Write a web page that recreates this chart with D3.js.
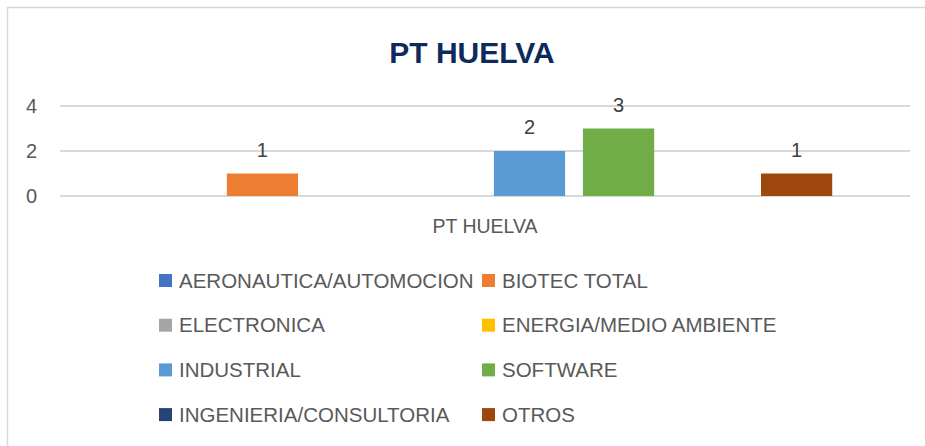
<!DOCTYPE html>
<html>
<head>
<meta charset="utf-8">
<script src="https://cdn.jsdelivr.net/npm/d3@7"></script>
<style>
  body { margin: 0; background: #fff; }
  text { font-family: "Liberation Sans", Arial, sans-serif; }
</style>
</head>
<body>
<svg width="925" height="446"></svg>
<script>
var categories = ["PT HUELVA"];
var seriesNames = ["AERONAUTICA/AUTOMOCION", "BIOTEC TOTAL", "ELECTRONICA", "ENERGIA/MEDIO AMBIENTE",
                   "INDUSTRIAL", "SOFTWARE", "INGENIERIA/CONSULTORIA", "OTROS"];
var seriesValues = [0, 1, 0, 0, 2, 3, 0, 1];
var yTicks = [0, 2, 4];
var colors = ["#4472C4", "#ED7D31", "#A5A5A5", "#FFC000", "#5B9BD5", "#70AD47", "#264478", "#9E480E"];

var svg = d3.select("svg");

// chart frame (right/bottom edges fall outside the picture)
svg.append("rect")
    .attr("x", 7.5).attr("y", 7.5)
    .attr("width", 940).attr("height", 460)
    .attr("fill", "none")
    .attr("stroke", "#d9d9d9")
    .attr("stroke-width", 1.5);

svg.append("text")
    .attr("x", 472).attr("y", 63)
    .attr("text-anchor", "middle")
    .style("font-size", "30px")
    .style("font-weight", "bold")
    .attr("fill", "#0E2A5C")
    .text("PT HUELVA");

var x0 = d3.scaleBand().domain(categories).range([60, 910]).paddingInner(0).paddingOuter(0.112);
var x1 = d3.scaleBand().domain(seriesNames).range([0, x0.bandwidth()]).paddingInner(0.2).paddingOuter(0);
var y = d3.scaleLinear().domain([0, 4]).range([196, 106]);

// gridlines
svg.append("g")
    .selectAll("line")
    .data(yTicks)
    .enter().append("line")
        .attr("x1", 60).attr("x2", 910)
        .attr("y1", function(d) { return y(d); })
        .attr("y2", function(d) { return y(d); })
        .attr("stroke", "#d9d9d9")
        .attr("stroke-width", 2);

// y tick labels
svg.append("g")
    .selectAll("text")
    .data(yTicks)
    .enter().append("text")
        .attr("x", 37)
        .attr("y", function(d) { return y(d) + 7; })
        .attr("text-anchor", "end")
        .style("font-size", "20px")
        .attr("fill", "#595959")
        .text(function(d) { return d; });

var rows = seriesNames.map(function(name, i) {
    return { cat: categories[0], name: name, value: seriesValues[i], color: colors[i] };
});

var bars = svg.append("g");
bars.selectAll("rect")
    .data(rows.filter(function(d) { return d.value > 0; }))
    .enter().append("rect")
        .attr("x", function(d) { return x0(d.cat) + x1(d.name); })
        .attr("y", function(d) { return y(d.value); })
        .attr("width", x1.bandwidth())
        .attr("height", function(d) { return y(0) - y(d.value); })
        .attr("fill", function(d) { return d.color; });

// data labels
bars.selectAll("text")
    .data(rows.filter(function(d) { return d.value > 0; }))
    .enter().append("text")
        .attr("x", function(d) { return x0(d.cat) + x1(d.name) + x1.bandwidth() / 2; })
        .attr("y", function(d) { return y(d.value) - 17; })
        .attr("text-anchor", "middle")
        .style("font-size", "20px")
        .attr("fill", "#404040")
        .text(function(d) { return d.value; });

// category label
svg.append("text")
    .attr("x", x0(categories[0]) + x0.bandwidth() / 2)
    .attr("y", 233)
    .attr("text-anchor", "middle")
    .style("font-size", "19.5px")
    .attr("fill", "#595959")
    .text(categories[0]);

// legend: two columns
var legend = svg.append("g")
    .selectAll("g")
    .data(rows)
    .enter().append("g")
        .attr("transform", function(d, i) {
            var col = i % 2, row = Math.floor(i / 2);
            return "translate(" + (col ? 482 : 159) + "," + (280 + row * 44.7) + ")";
        });

legend.append("rect")
    .attr("x", 0).attr("y", -6)
    .attr("width", 13).attr("height", 13)
    .attr("fill", function(d) { return d.color; });

legend.append("text")
    .attr("x", 20).attr("y", 7.5)
    .style("font-size", "20.5px")
    .attr("fill", "#595959")
    .text(function(d) { return d.name; });
</script>
</body>
</html>
